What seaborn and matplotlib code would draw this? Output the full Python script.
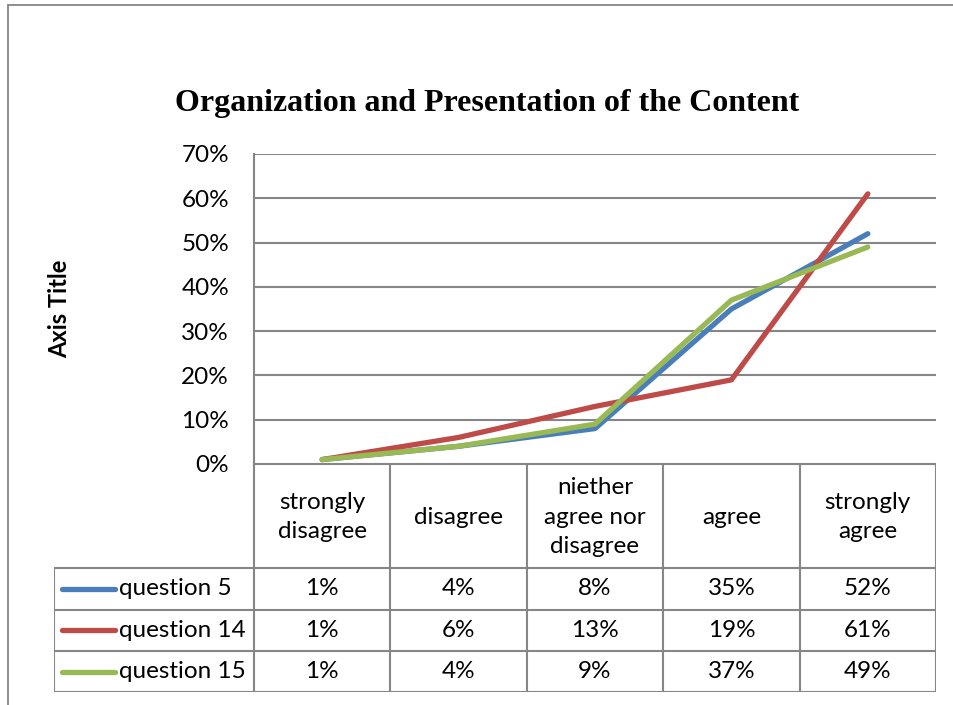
import numpy as np
import pandas as pd
import seaborn as sns
import matplotlib.pyplot as plt
from matplotlib.lines import Line2D

# Data
categories = ['strongly\ndisagree', 'disagree', 'niether\nagree nor\ndisagree', 'agree', 'strongly\nagree']
series_names = ['question 5', 'question 14', 'question 15']
q5 = [0.01, 0.04, 0.08, 0.35, 0.52]
q14 = [0.01, 0.06, 0.13, 0.19, 0.61]
q15 = [0.01, 0.04, 0.09, 0.37, 0.49]
colors = ['#4A7EBB', '#BE4B48', '#98B954']

df = pd.DataFrame({
    'pos': list(range(len(categories))) * 3,
    'value': q5 + q14 + q15,
    'series': np.repeat(series_names, len(categories)),
})

sns.set_theme(style='white')
plt.rcParams['font.family'] = ['Lato', 'DejaVu Sans']
plt.rcParams['text.color'] = 'black'
plt.rcParams['ytick.color'] = 'black'

W, H = 954, 705
fig = plt.figure(figsize=(W / 100, H / 100), dpi=100)
grid_col = '#868686'
fs = 17.5

def fx(px):
    return px / W

def fy(py):
    return 1 - py / H

# outer chart border (partly cropped in the original)
fig.add_artist(Line2D([fx(8), fx(954)], [fy(5), fy(5)], color=grid_col, lw=1.3))
fig.add_artist(Line2D([fx(8), fx(8)], [fy(5), fy(705)], color=grid_col, lw=1.3))

# Main plot
x0, x1, ytop, ybot = 254, 936, 154, 464
ax = fig.add_axes([fx(x0), fy(ybot), fx(x1 - x0), (ybot - ytop) / H])
sns.lineplot(data=df, x='pos', y='value', hue='series', palette=colors,
             linewidth=3.8, ax=ax, legend=False)
for ln in ax.lines:
    ln.set_solid_capstyle('round')
ax.set_xlim(-0.5, len(categories) - 0.5)
ax.set_ylim(0, 0.7)
yt = np.arange(0, 0.71, 0.1)
ax.set_yticks(yt)
ax.set_yticklabels([f'{int(round(v * 100))}%' for v in yt], fontsize=fs, color='black')
ax.tick_params(axis='y', length=0, pad=18)
ax.set_xticks([])
ax.set_xlabel('')
ax.set_ylabel('')
ax.grid(axis='y', color=grid_col, lw=1.5)
ax.set_axisbelow(True)
for s in ['top', 'right', 'bottom']:
    ax.spines[s].set_visible(False)
ax.spines['left'].set_color(grid_col)
ax.spines['left'].set_linewidth(1.5)

fig.text(fx(487), fy(103), 'Organization and Presentation of the Content',
         ha='center', va='center', fontsize=23, fontweight='bold', color='black',
         family=['Liberation Serif', 'DejaVu Serif'])
fig.text(fx(60), fy(309), 'Axis Title', rotation=90, ha='center', va='center',
         fontsize=17, fontweight='bold', color='black')

# Data table below the plot
cat_w = (x1 - x0) / len(categories)
tx0 = 54
left_units = (x0 - tx0) / cat_w
tbot = 692
tax = fig.add_axes([fx(tx0), fy(tbot), fx(x1 - tx0), (tbot - ybot) / H])
tax.set_xlim(-0.5 - left_units, len(categories) - 0.5)
tax.set_ylim(tbot - ybot, 0)
tax.axis('off')
row_tops = [0, 104, 145.5, 187, 228]
lw_t = 1.5
tax.plot([-0.5, len(categories) - 0.5], [0, 0], color=grid_col, lw=lw_t)
for yy in row_tops[1:]:
    tax.plot([-0.5 - left_units, len(categories) - 0.5], [yy, yy], color=grid_col, lw=lw_t)
for i in range(len(categories) + 1):
    tax.plot([i - 0.5, i - 0.5], [0, row_tops[-1]], color=grid_col, lw=lw_t)
tax.plot([-0.5 - left_units] * 2, [row_tops[1], row_tops[-1]], color=grid_col, lw=lw_t)

for i, c in enumerate(categories):
    tax.text(i, 53, c, ha='center', va='center', fontsize=fs, linespacing=1.5)

for r, (name, vals, col) in enumerate(zip(series_names, [q5, q14, q15], colors)):
    yc = (row_tops[r + 1] + row_tops[r + 2]) / 2
    xl = -0.5 - left_units
    tax.plot([xl + 0.06, xl + 0.45], [yc, yc], color=col, lw=3.8, solid_capstyle='round')
    tax.text(xl + 0.48, yc, name, ha='left', va='center', fontsize=fs)
    for i, v in enumerate(vals):
        tax.text(i, yc, f'{int(round(v * 100))}%', ha='center', va='center', fontsize=fs)

fig.savefig('out.png', dpi=100)
